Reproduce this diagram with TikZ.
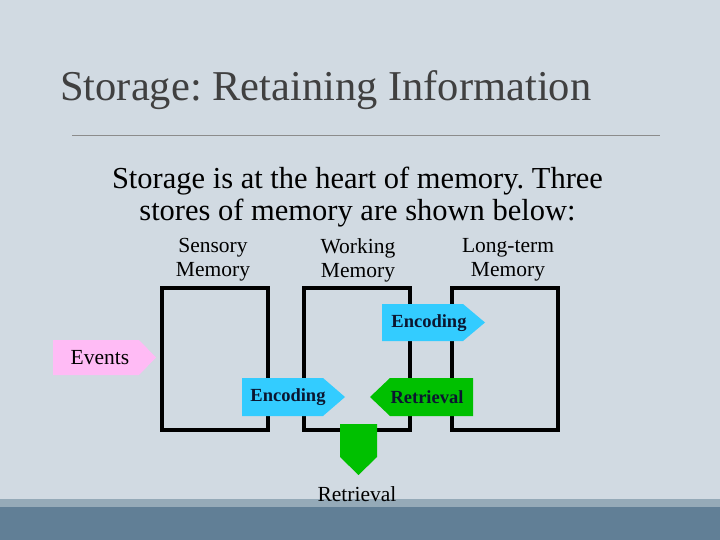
\documentclass[tikz,border=0pt]{standalone}
\usepackage{fontspec}
\setmainfont{Liberation Serif}
\frenchspacing
\definecolor{bg}{HTML}{D1DAE2}
\definecolor{band1}{HTML}{95AAB8}
\definecolor{band2}{HTML}{617F96}
\definecolor{titlec}{HTML}{404040}
\definecolor{rulec}{HTML}{8C8C8C}
\definecolor{cyanA}{HTML}{33CCFF}
\definecolor{greenA}{HTML}{00C000}
\definecolor{pinkA}{HTML}{FFBBF5}
\definecolor{navy}{HTML}{0B1630}
\begin{document}
\begin{tikzpicture}[x=1pt,y=-1pt,
  store/.style={draw=black,line width=4pt,rectangle,minimum width=106pt,minimum height=142pt,inner sep=0pt},
  lbl/.style={align=center,font=\fontsize{21.5}{24}\selectfont,text=black,inner sep=0pt},
  arrtxt/.style={font=\fontsize{18.5}{22}\selectfont\bfseries,text=navy,inner sep=0pt},
  plaintxt/.style={font=\fontsize{21.5}{24}\selectfont,text=black,inner sep=0pt}]
\useasboundingbox (0,0) rectangle (720,540);
\fill[bg] (0,0) rectangle (720,540);
\fill[band1] (0,499) rectangle (720,507);
\fill[band2] (0,507) rectangle (720,540);
% title
\node[anchor=base west,inner sep=0pt,text=titlec,font=\fontsize{42.5}{48}\selectfont] (title) at (60,101) {Storage: Retaining Information};
\draw[rulec,line width=1pt] (72,136) -- (660,136);
% body text
\node[anchor=base,inner sep=0pt,font=\fontsize{30.5}{33}\selectfont,text=black] (l1) at (357.5,189) {Storage is at the heart of memory. Three};
\node[anchor=base,inner sep=0pt,font=\fontsize{30.5}{33}\selectfont,text=black] (l2) at (357.5,221) {stores of memory are shown below:};
% store labels
\node[lbl] (lab1) at (213,260) {Sensory\\Memory};
\node[lbl] (lab2) at (358,260) {Working\\Memory};
\node[lbl] (lab3) at (508,260) {Long-term\\Memory};
% stores
\node[store] (sens) at (215,359) {};
\node[store] (work) at (356.5,359) {};
\node[store] (long) at (504.5,359) {};
% events
\fill[pinkA] (53,340) -- (139,340) -- (156,357.5) -- (139,375) -- (53,375) -- cycle;
\node[plaintxt] (events) at (100,358) {Events};
% encoding top
\fill[cyanA] (382,304) -- (463,304) -- (485,322.5) -- (463,341) -- (382,341) -- cycle;
\node[arrtxt] (enc1) at (429,323) {Encoding};
% encoding bottom
\fill[cyanA] (242,378) -- (323,378) -- (345,397) -- (323,416) -- (242,416) -- cycle;
\node[arrtxt] (enc2) at (288,397) {Encoding};
% retrieval left
\fill[greenA] (473,378) -- (390,378) -- (370,397) -- (390,416) -- (473,416) -- cycle;
\node[arrtxt] (ret1) at (427,397) {Retrieval};
% retrieval down
\fill[greenA] (340,424) -- (377,424) -- (377,457) -- (358.5,475) -- (340,457) -- cycle;
\node[plaintxt] (ret2) at (357,494) {Retrieval};
\end{tikzpicture}
\end{document}
